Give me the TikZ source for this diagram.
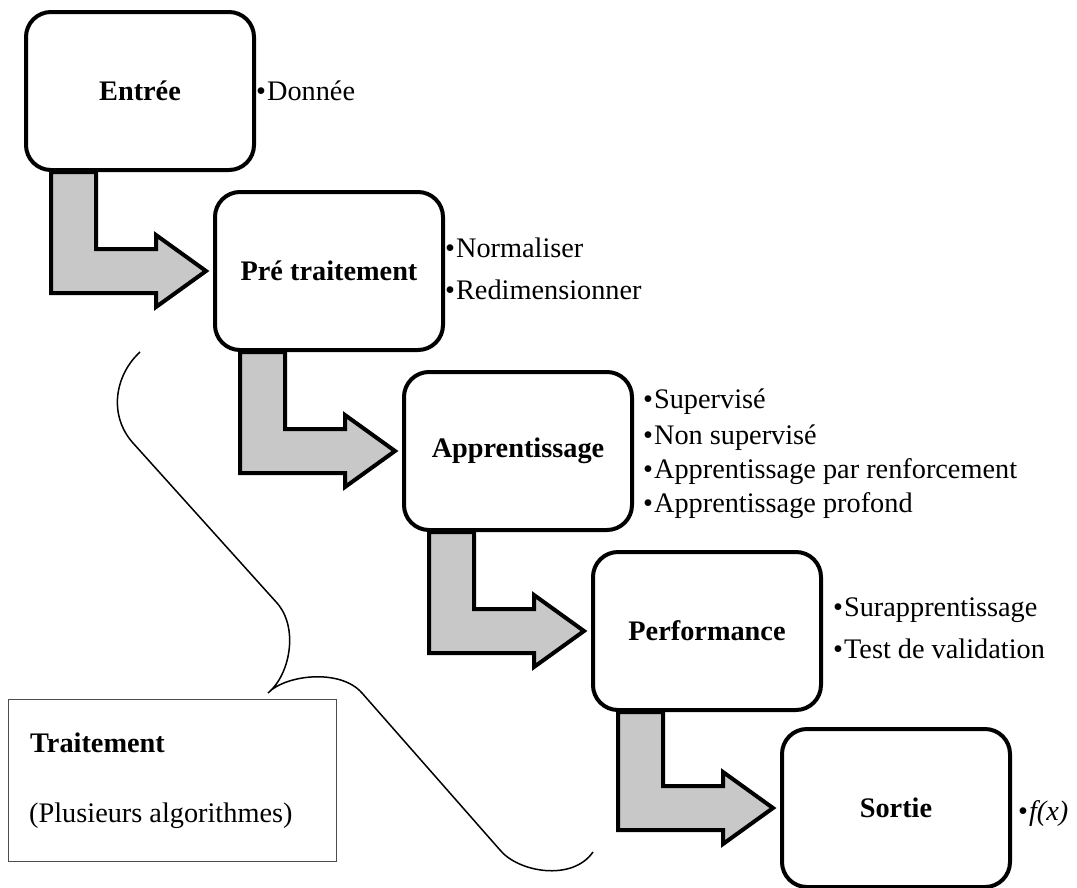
\documentclass[tikz,border=0pt]{standalone}
\usepackage{fontspec}
\setmainfont{Liberation Serif}
\usetikzlibrary{calc}
\definecolor{flowgray}{RGB}{200,200,200}

\begin{document}
\begin{tikzpicture}[x=1pt,y=-1pt,font=\fontsize{28.3}{34}\selectfont,
   bentarrow/.style={draw=black,line width=4pt,fill=flowgray,line join=miter},
   item/.style={anchor=base west,inner sep=0pt}]
   \useasboundingbox (0,0) rectangle (1077,887);
   \begin{scope}[every node/.style={draw=black,line width=4pt,rounded corners=25pt,fill=white,
      minimum width=228pt,minimum height=158pt,font=\fontsize{28.3}{34}\selectfont\bfseries}]
    \node (entree) at (140,91) {Entrée};
    \node (pretrait) at (329,271) {Pré traitement};
    \node (apprent) at (518,451) {Apprentissage};
    \node (perf) at (707,631) {Performance};
    \node (sortie) at (896,808) {Sortie};
   \end{scope}
   % fleches coudees
   \draw[bentarrow] let \p1=(entree.south west), \p2=(pretrait.west) in
    (\x1+27,\y1) |- (\x1+132,\y2-22) -- (\x1+132,\y2-36) -- (\x2-7,\y2)
    -- (\x1+132,\y2+36) -- (\x1+132,\y2+22) -| (\x1+72,\y1) -- cycle;
   \draw[bentarrow] let \p1=(pretrait.south west), \p2=(apprent.west) in
    (\x1+27,\y1) |- (\x1+132,\y2-22) -- (\x1+132,\y2-36) -- (\x2-7,\y2)
    -- (\x1+132,\y2+36) -- (\x1+132,\y2+22) -| (\x1+72,\y1) -- cycle;
   \draw[bentarrow] let \p1=(apprent.south west), \p2=(perf.west) in
    (\x1+27,\y1) |- (\x1+132,\y2-22) -- (\x1+132,\y2-36) -- (\x2-7,\y2)
    -- (\x1+132,\y2+36) -- (\x1+132,\y2+22) -| (\x1+72,\y1) -- cycle;
   \draw[bentarrow] let \p1=(perf.south west), \p2=(sortie.west) in
    (\x1+27,\y1) |- (\x1+132,\y2-22) -- (\x1+132,\y2-36) -- (\x2-7,\y2)
    -- (\x1+132,\y2+36) -- (\x1+132,\y2+22) -| (\x1+72,\y1) -- cycle;
   % listes a droite
   \node[item] (donnee) at (256,100) {•\kern1pt Donnée};
   \node[item] (norm) at (445,257) {•\kern1pt Normaliser};
   \node[item] (redim) at (445,299) {•\kern1pt Redimensionner};
   \node[item] (superv) at (643,408) {•\kern1pt Supervisé};
   \node[item] (nonsup) at (643,444) {•\kern1pt Non supervisé};
   \node[item] (renf) at (643,478) {•\kern1pt Apprentissage par renforcement};
   \node[item] (profond) at (643,512) {•\kern1pt Apprentissage profond};
   \node[item] (surapp) at (833,616) {•\kern1pt Surapprentissage};
   \node[item] (valid) at (833,658) {•\kern1pt Test de validation};
   \node[item] (fx) at (1018,820) {•\kern1pt\textit{f(x)}};
   % accolade et boite traitement
   \node[draw=black!70,line width=1pt,minimum width=328pt,minimum height=162pt] (trait) at (172,780) {};
   \node[item,font=\fontsize{28.3}{34}\selectfont\bfseries] (traitT) at (30,752) {Traitement};
   \node[item] (traitA) at (29,822) {(Plusieurs algorithmes)};
   \draw[line width=1.5pt] (140,352) .. controls (115,375) and (108,415) .. (133,443)
    -- (277,603) .. controls (299,628) and (290,675) .. (268,693)
    .. controls (285,675) and (340,668) .. (362,693)
    -- (500,850) .. controls (518,872) and (572,882) .. (593,852);
\end{tikzpicture}
\end{document}
